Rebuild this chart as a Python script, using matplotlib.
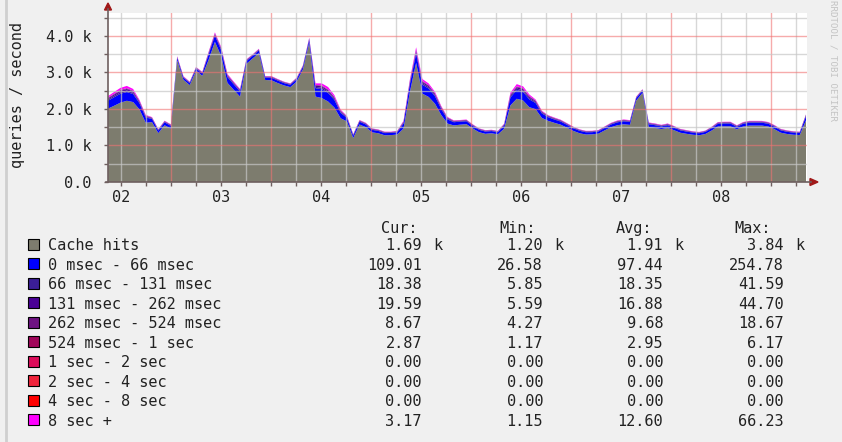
import matplotlib
matplotlib.use("Agg")
import matplotlib.pyplot as plt
import numpy as np
from matplotlib.patches import Rectangle, Polygon
from matplotlib.lines import Line2D

W, H = 842, 442
MONO = "DejaVu Sans Mono"
FS = 11

# sample times in days (day label N sits at N + 0.5), one sample every 1.5 h
t_start, t_end = 2.37, 9.35

# queries / second per latency bucket
cache_hits = [2010, 2090, 2175, 2225, 2190, 1990, 1625, 1640, 1340, 1555, 1460,
              3340, 2800, 2655, 3050, 2910, 3345, 3840, 3450, 2715, 2525, 2340,
              3235, 3385, 3530, 2795, 2785, 2710, 2645, 2600, 2750, 3085, 3820,
              2340, 2300, 2205, 2040, 1745, 1660, 1205, 1575, 1500, 1360, 1335,
              1280, 1285, 1300, 1465, 2460, 3265, 2420, 2330, 2145, 1835, 1600,
              1550, 1570, 1585, 1465, 1365, 1320, 1335, 1305, 1460, 2100, 2280,
              2235, 2050, 1995, 1755, 1675, 1620, 1570, 1485, 1400, 1335, 1300,
              1305, 1325, 1415, 1500, 1555, 1580, 1565, 2230, 2445, 1505, 1480,
              1450, 1480, 1420, 1350, 1320, 1295, 1280, 1315, 1410, 1520, 1525,
              1525, 1440, 1520, 1545, 1545, 1545, 1520, 1445, 1350, 1315, 1295,
              1285, 1690]
ms_0_66 = [215, 235, 245, 240, 220, 170, 140,
           90, 70, 80, 78, 62, 58, 55, 60, 64,
           150, 170, 165, 160, 150, 140,
           78, 70, 74, 66, 72, 68, 64, 62, 66, 68, 80,
           230, 245, 235, 210, 150,
           95, 66, 78, 76, 68, 64, 60, 58, 62, 140,
           215, 254, 245, 230, 205, 160, 115,
           88, 82, 80, 74, 66, 62, 60, 60, 88,
           215, 240, 235, 215, 170, 125,
           100, 92, 86, 80, 74, 68, 63, 60, 61, 68, 76, 80, 83, 81, 66, 60, 78, 76, 74, 76,
           72, 66, 62, 58, 56, 58, 66, 76, 78, 78, 72, 76, 80, 80, 79, 76, 70, 64, 60, 58, 58,
           109.01]
ms_66_131 = [34, 38, 40, 39, 35, 26, 22,
             15, 12, 14, 13, 12, 11, 11, 12, 13,
             20, 24, 23, 24, 22, 21,
             14, 13, 14, 12, 13, 13, 12, 12, 13, 13, 15,
             36, 40, 38, 34, 25,
             16, 12, 14, 14, 13, 12, 12, 11, 12, 22,
             34, 41, 39, 37, 33, 25, 20,
             15, 14, 14, 13, 12, 12, 11, 11, 15,
             35, 40, 39, 36, 28, 22,
             17, 16, 15, 14, 13, 12, 12, 12, 12, 13, 14, 15, 15, 15, 13, 12, 14, 14, 13, 14,
             13, 12, 12, 11, 11, 11, 12, 14, 14, 14, 13, 14, 15, 15, 15, 14, 13, 12, 12, 11, 11,
             18.38]
ms_131_262 = [30, 36, 42, 44, 38, 24, 20,
              13, 11, 12, 12, 11, 10, 10, 11, 12,
              19, 22, 22, 23, 21, 20,
              13, 12, 13, 11, 12, 12, 11, 11, 12, 12, 14,
              33, 38, 36, 31, 23,
              15, 11, 13, 13, 12, 11, 11, 10, 11, 20,
              32, 44, 40, 36, 30, 23, 18,
              14, 13, 13, 12, 11, 11, 10, 10, 14,
              33, 39, 37, 34, 26, 20,
              16, 15, 14, 13, 12, 11, 11, 11, 11, 12, 13, 14, 14, 14, 12, 11, 13, 13, 12, 13,
              12, 11, 11, 10, 10, 10, 11, 13, 13, 13, 12, 13, 14, 14, 14, 13, 12, 11, 11, 10, 10,
              19.59]
ms_262_524 = [15, 17, 18, 18, 16, 12, 11,
              8, 7, 8, 7, 7, 6, 6, 7, 7,
              11, 12, 12, 12, 11, 11,
              8, 7, 8, 7, 7, 7, 7, 7, 7, 8, 8,
              16, 18, 17, 15, 12,
              9, 7, 8, 8, 7, 7, 7, 6, 7, 11,
              15, 19, 18, 16, 15, 12, 10,
              8, 8, 8, 7, 7, 7, 6, 6, 8,
              16, 18, 18, 16, 13, 11,
              9, 9, 8, 8, 7, 7, 7, 7, 7, 7, 8, 8, 8, 8, 7, 7, 8, 8, 7, 8,
              7, 7, 7, 6, 6, 6, 7, 8, 8, 8, 7, 8, 8, 8, 8, 8, 7, 7, 7, 6, 6,
              8.67]
ms_524_1s = [5, 5, 6, 6, 5, 4, 3,
             2, 2, 2, 2, 2, 2, 2, 2, 2,
             3, 4, 4, 4, 3, 3,
             2, 2, 2, 2, 2, 2, 2, 2, 2, 2, 2,
             5, 6, 5, 5, 4,
             3, 2, 2, 2, 2, 2, 2, 1, 2, 3,
             5, 6, 6, 5, 5, 4, 3,
             3, 3, 2, 2, 2, 2, 2, 2, 3,
             5, 6, 6, 5, 4, 3,
             3, 3, 3, 3, 2, 2, 2, 2, 2, 2, 2, 3, 3, 3, 2, 2, 3, 3, 2, 3,
             2, 2, 2, 2, 2, 2, 2, 3, 3, 3, 2, 3, 3, 3, 3, 3, 2, 2, 2, 2, 2,
             2.87]
s_1_2 = [0.0] * len(cache_hits)
s_2_4 = [0.0] * len(cache_hits)
s_4_8 = [0.0] * len(cache_hits)
s_8_plus = [40, 48, 55, 60, 45, 25, 18,
            10, 8, 9, 9, 14, 12, 10, 9, 10,
            20, 28, 24, 22, 18, 16,
            10, 9, 10, 8, 9, 9, 8, 8, 9, 10, 14,
            42, 55, 66, 45, 22,
            12, 8, 9, 9, 8, 8, 7, 7, 8, 18,
            40, 62, 52, 45, 38, 22, 15,
            10, 9, 9, 8, 8, 7, 7, 7, 10,
            45, 58, 52, 42, 24, 16,
            11, 10, 10, 9, 8, 8, 7, 7, 7, 8, 9, 10, 10, 10, 9, 8, 10, 10, 9, 10,
            9, 8, 8, 7, 7, 7, 8, 9, 9, 9, 9, 9, 10, 10, 10, 9, 9, 8, 8, 7, 7,
            3.17]

series = [cache_hits, ms_0_66, ms_66_131, ms_131_262, ms_262_524, ms_524_1s,
          s_1_2, s_2_4, s_4_8, s_8_plus]
names = ["Cache hits", "0 msec - 66 msec", "66 msec - 131 msec", "131 msec - 262 msec",
         "262 msec - 524 msec", "524 msec - 1 sec", "1 sec - 2 sec", "2 sec - 4 sec",
         "4 sec - 8 sec", "8 sec +"]
colors = ["#7d7c6e", "#0000ff", "#3b1e96", "#4a0096", "#6e1282", "#a0065a",
          "#dc0c5a", "#f0243c", "#ff0000", "#ff00ff"]

# legend statistics
cur_vals = [1690, 109.01, 18.38, 19.59, 8.67, 2.87, 0.00, 0.00, 0.00, 3.17]
min_vals = [1200, 26.58, 5.85, 5.59, 4.27, 1.17, 0.00, 0.00, 0.00, 1.15]
avg_vals = [1910, 97.44, 18.35, 16.88, 9.68, 2.95, 0.00, 0.00, 0.00, 12.60]
max_vals = [3840, 254.78, 41.59, 44.70, 18.67, 6.17, 0.00, 0.00, 0.00, 66.23]

day_labels = ["02", "03", "04", "05", "06", "07", "08"]
y_major = [0, 1000, 2000, 3000, 4000]
y_labels = ["0.0", "1.0 k", "2.0 k", "3.0 k", "4.0 k"]

t = np.linspace(t_start, t_end, len(cache_hits))


def fx(px):
    return px / W


def fy(py):
    return 1 - py / H


fig = plt.figure(figsize=(W / 100, H / 100), dpi=100, facecolor="#f0f0f0")
ax = fig.add_axes([fx(108), fy(182), (807 - 108) / W, (182 - 13) / H])
ax.set_facecolor("white")

ax.stackplot(t, *series, colors=colors, linewidth=0, zorder=1)

x_lo, x_hi = 2.37, 9.36
ax.set_xlim(x_lo, x_hi)
ax.set_ylim(0, 4630)

# grid: grey every 6 h / 500, red every day / 1000
minor_c = (0.78, 0.78, 0.78, 0.7)
major_c = (0.94, 0.45, 0.45, 0.6)
for x in np.arange(2.5, x_hi, 0.25):
    if abs(x - round(x)) > 1e-6:
        ax.axvline(x, color=minor_c, lw=1, zorder=3)
for x in np.arange(3, x_hi, 1.0):
    ax.axvline(x, color=major_c, lw=1, zorder=3)
for y in np.arange(500, 4630, 1000):
    ax.axhline(y, color=minor_c, lw=1, zorder=3)
for y in y_major[1:]:
    ax.axhline(y, color=major_c, lw=1, zorder=3)

for s in ax.spines.values():
    s.set_visible(False)

ax.set_xticks([d + 0.5 for d in range(2, 9)])
ax.set_xticklabels(day_labels, fontfamily=MONO, fontsize=FS, color="#222222")
ax.set_xticks(np.arange(2.5, x_hi, 0.25), minor=True)
ax.set_yticks(y_major)
ax.set_yticklabels(y_labels, fontfamily=MONO, fontsize=FS, color="#222222")
ax.set_yticks(np.arange(500, 4630, 1000), minor=True)
ax.tick_params(axis="both", which="both", color="#6e5f5f", length=3, width=1)
ax.tick_params(axis="x", which="major", pad=3)
ax.tick_params(axis="y", which="major", pad=9)

# axis lines with arrows
axis_c = "#6e5f5f"
arrow_c = "#a01818"
fig.add_artist(Line2D([fx(108), fx(108)], [fy(182), fy(9)], color=axis_c, lw=1.2))
fig.add_artist(Line2D([fx(106), fx(811)], [fy(182), fy(182)], color=axis_c, lw=1.2))
fig.add_artist(Polygon([[fx(104.5), fy(10)], [fx(111.5), fy(10)], [fx(108), fy(3)]],
                       closed=True, color=arrow_c, transform=fig.transFigure))
fig.add_artist(Polygon([[fx(810), fy(178.5)], [fx(810), fy(185.5)], [fx(818), fy(182)]],
                       closed=True, color=arrow_c, transform=fig.transFigure))

fig.text(fx(18), fy(95), "queries / second", rotation=90, ha="center", va="center",
         fontfamily=MONO, fontsize=FS, color="#222222")
fig.text(fx(833), fy(61), "RRDTOOL / TOBI OETIKER", rotation=270, ha="center",
         va="center", fontfamily=MONO, fontsize=6.6, color="#c4c4c4")

# left frame line
fig.add_artist(Line2D([fx(6), fx(6)], [0, 1], color="#cfcfcf", lw=2))

# legend table
def fmt(v):
    if v >= 1000:
        return "%.2f" % (v / 1000), "k"
    return "%.2f" % v, ""


col_end = [422, 543, 663, 784]
headers = ["Cur:", "Min:", "Avg:", "Max:"]
head_x = [381, 499, 616, 734]
for hx, h in zip(head_x, headers):
    fig.text(fx(hx), fy(227), h, ha="left", va="center_baseline",
             fontfamily=MONO, fontsize=FS, color="#222222")

row_y0, row_dy = 244, 19.55
for i, name in enumerate(names):
    ry = row_y0 + i * row_dy
    fig.add_artist(Rectangle((fx(28), fy(ry + 5.5)), 11 / W, 11 / H,
                             transform=fig.transFigure, facecolor=colors[i],
                             edgecolor="black", lw=0.8))
    fig.text(fx(48), fy(ry), name, ha="left", va="center_baseline",
             fontfamily=MONO, fontsize=FS, color="#222222")
    for ce, vals in zip(col_end, [cur_vals, min_vals, avg_vals, max_vals]):
        num, unit = fmt(vals[i])
        fig.text(fx(ce), fy(ry), num, ha="right", va="center_baseline",
                 fontfamily=MONO, fontsize=FS, color="#222222")
        if unit:
            fig.text(fx(ce + 11), fy(ry), unit, ha="left", va="center_baseline",
                     fontfamily=MONO, fontsize=FS, color="#222222")

fig.savefig("out.png", dpi=100, facecolor=fig.get_facecolor())
